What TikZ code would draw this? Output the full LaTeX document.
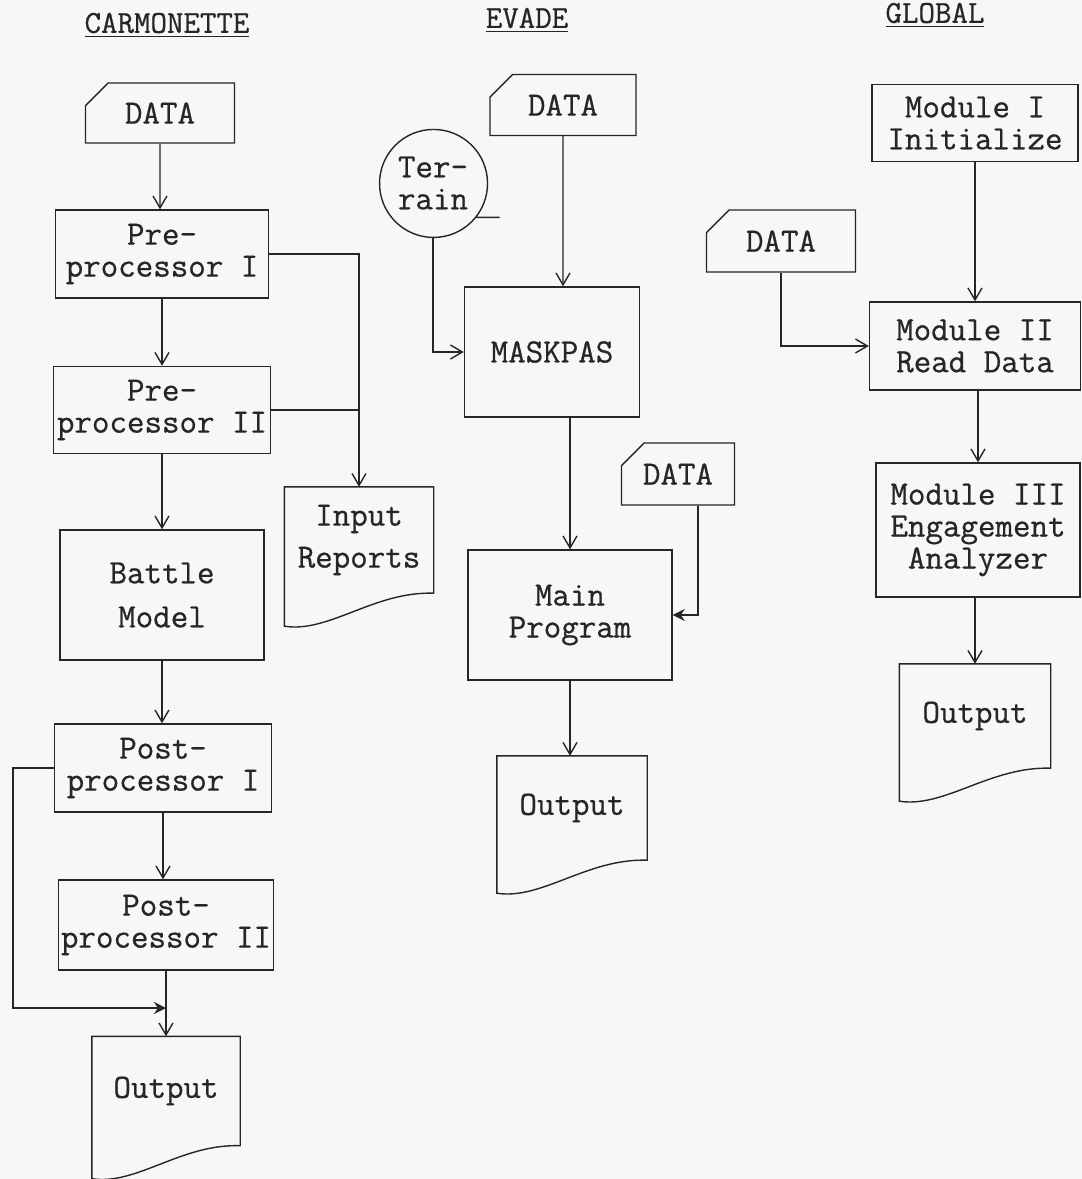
\documentclass[tikz,border=0pt]{standalone}
\usepackage{fontspec}
\newfontfamily\tw{Latin Modern Mono}[FakeBold=0.7]
\usetikzlibrary{arrows.meta, shapes.misc, calc}

\begin{document}
\begin{tikzpicture}[
      >={Straight Barb[length=6pt,width=7pt]},
      x=0.5pt, y=-0.5pt,
      line width=0.7pt, draw=black!85, text=black!85,
      every node/.style={font=\tw\fontsize{17}{16}\selectfont, align=center, inner sep=0pt},
      ttl/.style={font=\tw\fontsize{16}{16}\selectfont},
      box/.style={draw, rectangle},
      card/.style={draw, chamfered rectangle, chamfered rectangle corners=north west,
        chamfered rectangle xsep=6pt, chamfered rectangle ysep=6pt},
      doc/.style={rectangle}
    ]
    \fill[black!3] (0,0) rectangle (1082,1179);
    \useasboundingbox (0,0) rectangle (1082,1179);

    % Titoli
    \node[ttl] (tcar) at (167,25) {\underline{CARMONETTE}};
    \node[ttl] (teva) at (527,20) {\underline{EVADE}};
    \node[ttl] (tglo) at (935,15) {\underline{GLOBAL}};

    % CARMONETTE
    \node[card, minimum width=74.5pt, minimum height=30pt] (cdata) at (160,113) {DATA};
    \node[box, minimum width=106.5pt, minimum height=44pt] (pre1) at (162,254) {Pre-\\processor I};
    \node[box, minimum width=108.5pt, minimum height=43.5pt] (pre2) at (162,410) {Pre-\\processor II};
    \node[box, minimum width=102pt, minimum height=65pt] (bat) at (162,595) {Battle\\[6pt]Model};
    \node[box, minimum width=108.5pt, minimum height=44pt] (post1) at (163,768) {Post-\\processor I};
    \node[box, minimum width=107.5pt, minimum height=45pt] (post2) at (166,925) {Post-\\processor II};
    \node[doc, minimum width=73.5pt, minimum height=54pt] (out1) at (166,1091) {Output};
    \node[doc, minimum width=74pt, minimum height=52.5pt] (rep) at (359,540) {Input\\[5pt]Reports};
    \coordinate (join) at (166,1008);

    \draw[->] (cdata) -- (cdata.south |- pre1.north);
    \draw[->] (pre1) -- (pre1.south |- pre2.north);
    \draw[->] (pre2) -- (pre2.south |- bat.north);
    \draw[->] (bat) -- (bat.south |- post1.north);
    \draw[->] (post1) -- (post1.south |- post2.north);
    \draw[->] (post2.south) -- (post2.south |- out1.north);
    \draw[-{Stealth[length=6pt,width=6pt]}] (post1.west) -- ++(-41,0) |- (join);
    \draw[->] (pre1.east) -| (rep.north);
    \draw (pre2.east) -- (pre2.east -| rep.north);

    % EVADE
    \node[card, minimum width=73pt, minimum height=30.5pt] (edata) at (563,105) {DATA};
    \node (terr) at (433,183) [circle, minimum size=54pt] {Ter-\\rain};
    \draw (terr.-39) arc[start angle=39, end angle=-321, radius=54] -- ++(24,0);
    \node[box, minimum width=87.5pt, minimum height=65pt] (mask) at (552,352) {MASKPAS};
    \node[card, minimum width=56.5pt, minimum height=31pt] (edata2) at (678,474) {DATA};
    \node[box, minimum width=102pt, minimum height=65pt] (main) at (570,615) {Main\\Program};
    \node[doc, minimum width=74.5pt, minimum height=51.5pt] (out2) at (572,808) {Output};

    \draw[->] (edata) -- (edata.south |- mask.north);
    \draw[->] (terr.south) |- (mask.west);
    \draw[->] (main.north |- mask.south) -- (main.north);
    \draw[-{Stealth[length=6pt,width=6pt]}] ([xshift=10pt]edata2.south) |- (main.east);
    \draw[->] (main) -- (main.south |- out2.north);

    % GLOBAL
    \node[box, minimum width=103pt, minimum height=38.5pt] (mod1) at (975,123) {Module I\\Initialize};
    \node[card, minimum width=74.5pt, minimum height=31pt] (gdata) at (781,241) {DATA};
    \node[box, minimum width=105.5pt, minimum height=44pt] (mod2) at (975,346) {Module II\\Read Data};
    \node[box, minimum width=102pt, minimum height=67pt] (mod3) at (978,530) {Module III\\Engagement\\Analyzer};
    \node[doc, minimum width=75pt, minimum height=51.5pt] (out3) at (975,716) {Output};

    \draw[->] (mod1) -- (mod1.south |- mod2.north);
    \draw[->] (gdata.south) |- (mod2.west);
    \draw[->] (mod3.north |- mod2.south) -- (mod3.north);
    \draw[->] (out3.north |- mod3.south) -- (out3.north);

    % Documenti con bordo ondulato
    \foreach \n in {rep, out1, out2, out3}
      \draw (\n.north west) -- (\n.north east) -- (\n.south east)
        .. controls ($(\n.south east)!0.4!(\n.south west)+(0,-2)$)
        and ($(\n.south west)!0.3!(\n.south east)+(0,40)$)
        .. ($(\n.south west)+(0,33)$) -- cycle;
  \end{tikzpicture}
\end{document}
